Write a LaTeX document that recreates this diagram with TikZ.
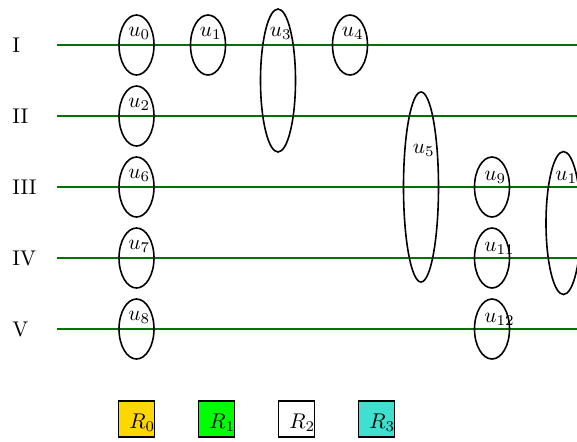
\documentclass[tikz,border=0pt]{standalone}
\usetikzlibrary{shapes.geometric}
\definecolor{lanegreen}{RGB}{0,115,0}
\definecolor{rgold}{RGB}{255,215,0}
\definecolor{rgreen}{RGB}{0,255,0}
\definecolor{rturq}{RGB}{64,224,208}
\begin{document}
\begin{tikzpicture}[x=0.47pt,y=-0.47pt,
  lane/.style={draw=lanegreen,line width=0.85pt},
  hyper/.style={draw=black,ellipse,line width=0.75pt,inner sep=0pt,minimum width=35*0.47pt},
  small/.style={hyper,minimum height=60*0.47pt},
  tall/.style={hyper,minimum height=143*0.47pt},
  huge/.style={hyper,minimum height=190*0.47pt},
  ulab/.style={anchor=base west,inner sep=0pt},
  rowlab/.style={anchor=base west,inner sep=0pt},
  legbox/.style={draw=black,line width=0.7pt,minimum size=36*0.47pt,inner sep=0pt},
  leglab/.style={anchor=base west,inner sep=0pt}]
\useasboundingbox (0,0) rectangle (577,441);
% row labels
\node[rowlab] (lI) at (12,52) {I};
\node[rowlab] (lII) at (12,123) {II};
\node[rowlab] (lIII) at (12,194) {III};
\node[rowlab] (lIV) at (12,265) {IV};
\node[rowlab] (lV) at (12,336) {V};
% lanes
\coordinate (aI) at (57,45);   \coordinate (bI) at (600,45);
\coordinate (aII) at (57,116); \coordinate (bII) at (600,116);
\coordinate (aIII) at (57,187);\coordinate (bIII) at (600,187);
\coordinate (aIV) at (57,258); \coordinate (bIV) at (600,258);
\coordinate (aV) at (57,329);  \coordinate (bV) at (600,329);
\draw[lane] (aI) -- (bI);
\draw[lane] (aII) -- (bII);
\draw[lane] (aIII) -- (bIII);
\draw[lane] (aIV) -- (bIV);
\draw[lane] (aV) -- (bV);
% hyperedges
\node[small] (u0) at (136.5,45) {};
\node[small] (u1) at (208,45) {};
\node[tall] (u3) at (278,80.5) {};
\node[small] (u4) at (350,45) {};
\node[small] (u2) at (136.5,116) {};
\node[huge] (u5) at (421,187) {};
\node[small] (u6) at (136.5,187) {};
\node[small] (u7) at (136.5,258) {};
\node[small] (u8) at (136.5,329) {};
\node[small] (u9) at (492,187) {};
\node[small] (u11) at (492,258) {};
\node[small] (u12) at (492,329) {};
\node[tall] (u10) at (563.5,223) {};
% labels
\node[ulab] (t0) at (128,36) {$u_0$};
\node[ulab] (t1) at (199.5,36) {$u_1$};
\node[ulab] (t3) at (269.5,36) {$u_3$};
\node[ulab] (t4) at (341.5,36) {$u_4$};
\node[ulab] (t2) at (128,107) {$u_2$};
\node[ulab] (t5) at (412.5,153) {$u_5$};
\node[ulab] (t6) at (128,178) {$u_6$};
\node[ulab] (t7) at (128,249) {$u_7$};
\node[ulab] (t8) at (128,320) {$u_8$};
\node[ulab] (t9) at (484,180) {$u_9$};
\node[ulab] (t11) at (484,251) {$u_{11}$};
\node[ulab] (t12) at (484,322) {$u_{12}$};
\node[ulab] (t10) at (555,180) {$u_{10}$};
% legend
\node[legbox,fill=rgold] (r0) at (136.3,419) {};
\node[legbox,fill=rgreen] (r1) at (216.3,419) {};
\node[legbox,fill=white] (r2) at (296.3,419) {};
\node[legbox,fill=rturq] (r3) at (376.3,419) {};
\node[leglab] (s0) at (129,428) {$R_0$};
\node[leglab] (s1) at (209,428) {$R_1$};
\node[leglab] (s2) at (289,428) {$R_2$};
\node[leglab] (s3) at (369,428) {$R_3$};
\end{tikzpicture}
\end{document}
